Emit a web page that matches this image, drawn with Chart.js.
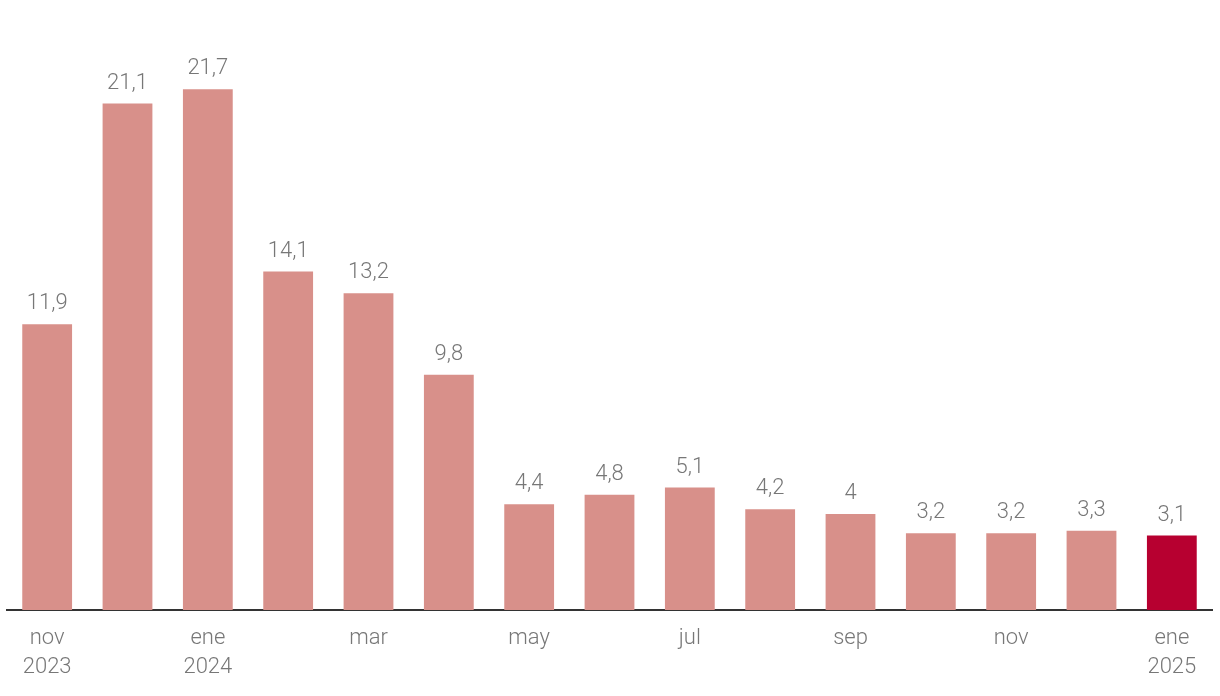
<!DOCTYPE html>
<html>
<head>
<meta charset="utf-8">
<script src="https://cdn.jsdelivr.net/npm/chart.js@4/dist/chart.umd.min.js"></script>
<style>
  body { margin: 0; background: #fff; }
  #wrap { width: 1220px; height: 696px; }
</style>
</head>
<body>
<div id="wrap"><canvas id="myChart"></canvas></div>
<script>
// months from nov 2023 to ene 2025, only every second one gets a label
var months = ['nov 2023', 'dic', 'ene 2024', 'feb', 'mar', 'abr', 'may', 'jun',
              'jul', 'ago', 'sep', 'oct', 'nov', 'dic', 'ene 2025'];
var tickLabels = [['nov', '2023'], '', ['ene', '2024'], '', 'mar', '', 'may', '',
                  'jul', '', 'sep', '', 'nov', '', ['ene', '2025']];
var values = [11.9, 21.1, 21.7, 14.1, 13.2, 9.8, 4.4, 4.8, 5.1, 4.2, 4.0, 3.2, 3.2, 3.3, 3.1];

var barColor = '#d8908a';
var lastColor = '#b70030';
var textColor = '#777777';

var colors = values.map(function (v, i) {
    return i === values.length - 1 ? lastColor : barColor;
});

// value labels on top of the bars, spanish decimal comma
var valueLabels = {
    id: 'valueLabels',
    afterDatasetsDraw: function (chart) {
        var ctx = chart.ctx;
        var meta = chart.getDatasetMeta(0);
        ctx.save();
        ctx.font = '300 22px Roboto';
        ctx.fillStyle = textColor;
        ctx.textAlign = 'center';
        ctx.textBaseline = 'alphabetic';
        meta.data.forEach(function (bar, i) {
            var txt = String(values[i]).replace('.', ',');
            ctx.fillText(txt, bar.x, bar.y - 15);
        });
        ctx.restore();
    }
};

var ctx = document.getElementById('myChart').getContext('2d');
var myChart = new Chart(ctx, {
    type: 'bar',
    data: {
        labels: months,
        datasets: [{
            data: values,
            backgroundColor: colors,
            borderWidth: 0,
            barPercentage: 0.62,
            categoryPercentage: 1
        }]
    },
    options: {
        responsive: true,
        maintainAspectRatio: false,
        animation: false,
        layout: { padding: { left: 7, right: 8, top: 10, bottom: 0 } },
        plugins: {
            legend: { display: false },
            tooltip: { enabled: false }
        },
        scales: {
            x: {
                grid: { display: false, drawTicks: false },
                border: { display: true, color: '#333333', width: 2 },
                ticks: {
                    autoSkip: false,
                    maxRotation: 0,
                    padding: 14,
                    color: textColor,
                    font: { family: 'Roboto', size: 22, weight: 300, lineHeight: 1.32 },
                    callback: function (v, i) { return tickLabels[i]; }
                }
            },
            y: {
                display: false,
                min: 0,
                max: 25
            }
        }
    },
    plugins: [valueLabels]
});
</script>
</body>
</html>
